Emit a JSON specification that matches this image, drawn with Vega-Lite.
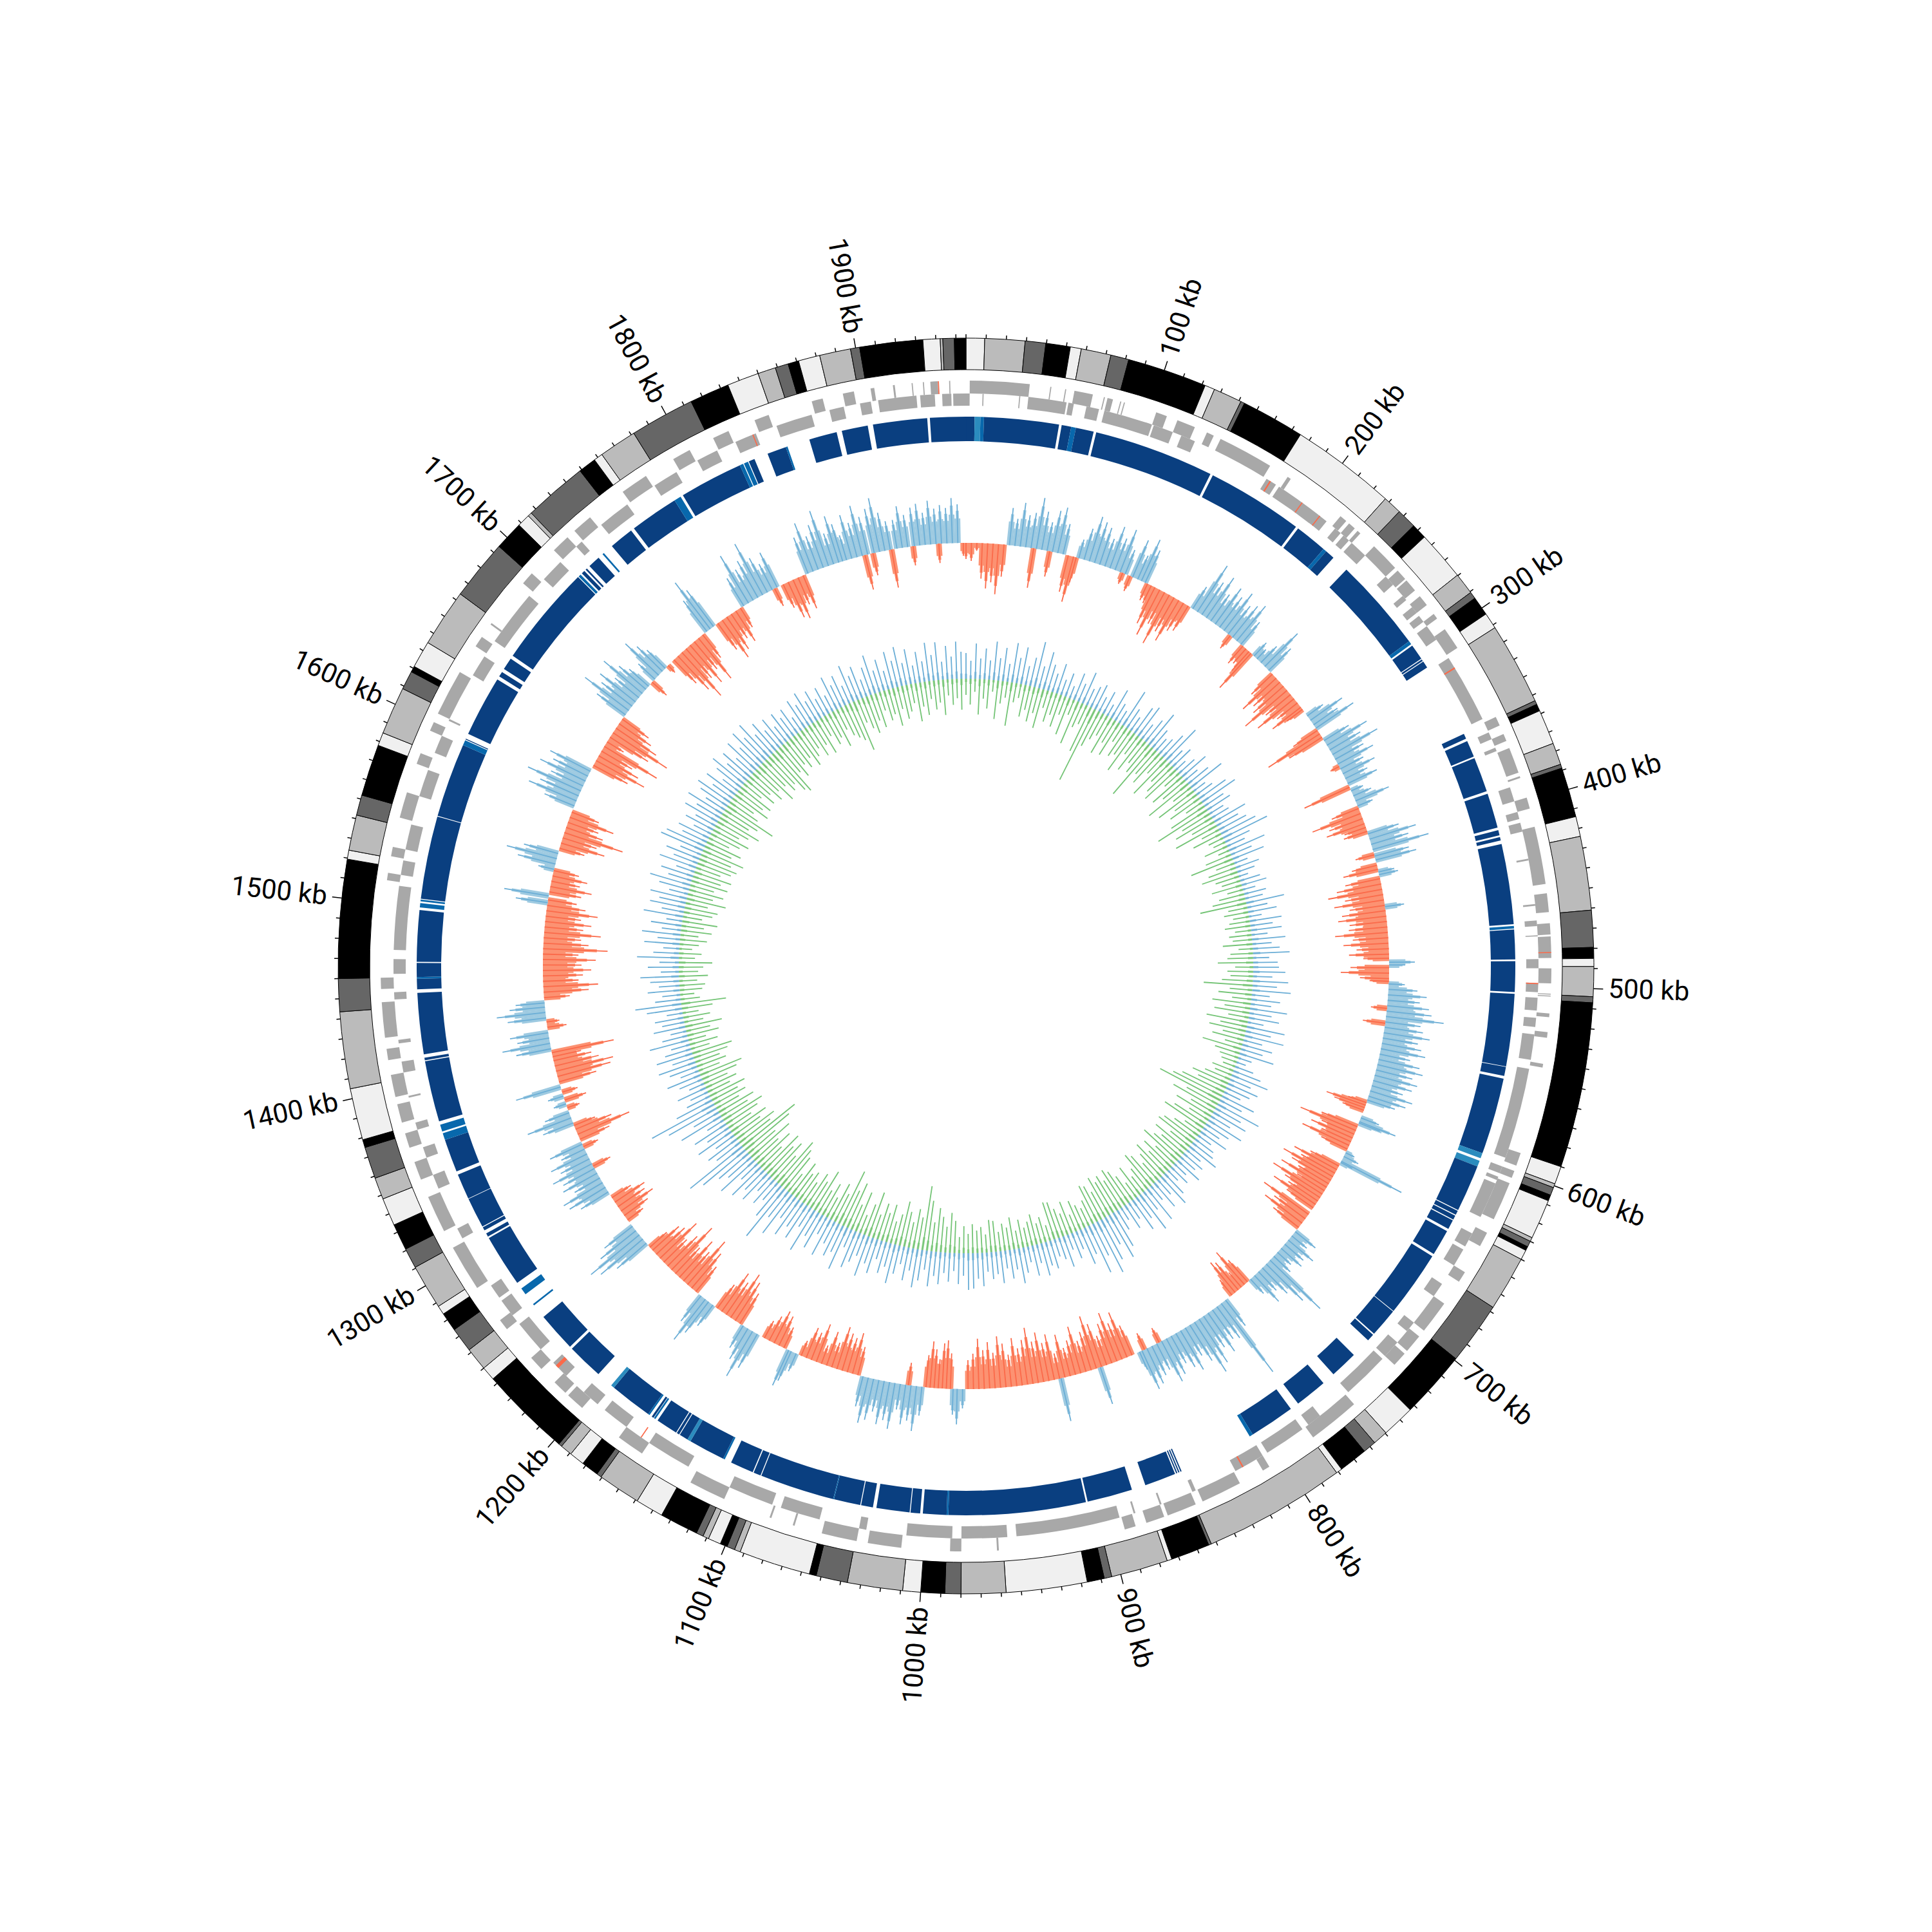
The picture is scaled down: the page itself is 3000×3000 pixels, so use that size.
{"$schema":"https://vega.github.io/schema/vega-lite/v6.json","width":3000,"height":3000,"padding":0,"autosize":{"type":"fit","contains":"padding"},"background":"white","config":{"view":{"stroke":null}},
"resolve":{"scale":{"radius":"independent","color":"independent","angle":"independent"}},
"datasets":{
"bands":[{"s":0,"e":9.3,"b":"l"},{"s":9.3,"e":29.4,"b":"g"},{"s":29.4,"e":39.7,"b":"d"},{"s":39.7,"e":52,"b":"k"},{"s":52,"e":57.5,"b":"l"},{"s":57.5,"e":72.5,"b":"g"},{"s":72.5,"e":81.6,"b":"d"},{"s":81.6,"e":121.6,"b":"k"},{"s":121.6,"e":126.6,"b":"l"},{"s":126.6,"e":141,"b":"g"},{"s":141,"e":143,"b":"d"},{"s":143,"e":174.8,"b":"k"},{"s":174.8,"e":227.6,"b":"l"},{"s":227.6,"e":237,"b":"g"},{"s":237,"e":247,"b":"d"},{"s":247,"e":254.7,"b":"k"},{"s":254.7,"e":279.7,"b":"l"},{"s":279.7,"e":290.5,"b":"g"},{"s":290.5,"e":294,"b":"d"},{"s":294,"e":303.6,"b":"k"},{"s":303.6,"e":311.7,"b":"l"},{"s":311.7,"e":353,"b":"g"},{"s":353,"e":355,"b":"d"},{"s":355,"e":358.5,"b":"k"},{"s":358.5,"e":376,"b":"l"},{"s":376,"e":387,"b":"g"},{"s":387,"e":389,"b":"d"},{"s":389,"e":414,"b":"k"},{"s":414,"e":424,"b":"l"},{"s":424,"e":461,"b":"g"},{"s":461,"e":479.5,"b":"d"},{"s":479.5,"e":485,"b":"k"},{"s":485,"e":489,"b":"l"},{"s":489,"e":504,"b":"g"},{"s":504,"e":507,"b":"d"},{"s":507,"e":590,"b":"k"},{"s":590,"e":599,"b":"l"},{"s":599,"e":601,"b":"g"},{"s":601,"e":605,"b":"d"},{"s":605,"e":608,"b":"k"},{"s":608,"e":628,"b":"l"},{"s":628,"e":630,"b":"g"},{"s":630,"e":633,"b":"d"},{"s":633,"e":635,"b":"k"},{"s":635,"e":640,"b":"l"},{"s":640,"e":667.6,"b":"g"},{"s":667.6,"e":699,"b":"d"},{"s":699,"e":733,"b":"k"},{"s":733,"e":749.6,"b":"l"},{"s":749.6,"e":757,"b":"g"},{"s":757,"e":763.6,"b":"d"},{"s":763.6,"e":778,"b":"k"},{"s":778,"e":781,"b":"l"},{"s":781,"e":852.6,"b":"g"},{"s":852.6,"e":854,"b":"d"},{"s":854,"e":873.6,"b":"k"},{"s":873.6,"e":876,"b":"l"},{"s":876,"e":904.6,"b":"g"},{"s":904.6,"e":908.4,"b":"d"},{"s":908.4,"e":917,"b":"k"},{"s":917,"e":957.6,"b":"l"},{"s":957.6,"e":980,"b":"g"},{"s":980,"e":988,"b":"d"},{"s":988,"e":1000,"b":"k"},{"s":1000,"e":1009,"b":"l"},{"s":1009,"e":1036.7,"b":"g"},{"s":1036.7,"e":1052.5,"b":"d"},{"s":1052.5,"e":1056,"b":"k"},{"s":1056,"e":1092,"b":"l"},{"s":1092,"e":1095,"b":"g"},{"s":1095,"e":1099,"b":"d"},{"s":1099,"e":1102.6,"b":"k"},{"s":1102.6,"e":1109,"b":"l"},{"s":1109,"e":1112,"b":"g"},{"s":1112,"e":1115.6,"b":"d"},{"s":1115.6,"e":1135,"b":"k"},{"s":1135,"e":1149,"b":"l"},{"s":1149,"e":1170.5,"b":"g"},{"s":1170.5,"e":1173,"b":"d"},{"s":1173,"e":1181.7,"b":"k"},{"s":1181.7,"e":1189.3,"b":"l"},{"s":1189.3,"e":1195.3,"b":"g"},{"s":1195.3,"e":1197,"b":"d"},{"s":1197,"e":1243,"b":"k"},{"s":1243,"e":1250,"b":"l"},{"s":1250,"e":1261.6,"b":"g"},{"s":1261.6,"e":1274,"b":"d"},{"s":1274,"e":1283.5,"b":"k"},{"s":1283.5,"e":1288,"b":"l"},{"s":1288,"e":1310.5,"b":"g"},{"s":1310.5,"e":1320.7,"b":"d"},{"s":1320.7,"e":1334,"b":"k"},{"s":1334,"e":1348,"b":"l"},{"s":1348,"e":1359,"b":"g"},{"s":1359,"e":1375,"b":"d"},{"s":1375,"e":1379,"b":"k"},{"s":1379,"e":1405,"b":"l"},{"s":1405,"e":1443.5,"b":"g"},{"s":1443.5,"e":1460,"b":"d"},{"s":1460,"e":1519.5,"b":"k"},{"s":1519.5,"e":1524,"b":"l"},{"s":1524,"e":1541.8,"b":"g"},{"s":1541.8,"e":1552,"b":"d"},{"s":1552,"e":1578,"b":"k"},{"s":1578,"e":1584.6,"b":"l"},{"s":1584.6,"e":1608.6,"b":"g"},{"s":1608.6,"e":1618,"b":"d"},{"s":1618,"e":1621,"b":"k"},{"s":1621,"e":1634.6,"b":"l"},{"s":1634.6,"e":1663.6,"b":"g"},{"s":1663.6,"e":1694,"b":"d"},{"s":1694,"e":1708.5,"b":"k"},{"s":1708.5,"e":1715,"b":"l"},{"s":1715,"e":1717,"b":"g"},{"s":1717,"e":1749,"b":"d"},{"s":1749,"e":1758,"b":"k"},{"s":1758,"e":1762.5,"b":"l"},{"s":1762.5,"e":1781.5,"b":"g"},{"s":1781.5,"e":1814,"b":"d"},{"s":1814,"e":1834,"b":"k"},{"s":1834,"e":1850,"b":"l"},{"s":1850,"e":1859,"b":"g"},{"s":1859,"e":1865.6,"b":"d"},{"s":1865.6,"e":1871,"b":"k"},{"s":1871,"e":1881.8,"b":"l"},{"s":1881.8,"e":1897.4,"b":"g"},{"s":1897.4,"e":1902,"b":"d"},{"s":1902,"e":1933.6,"b":"k"},{"s":1933.6,"e":1942.2,"b":"l"},{"s":1942.2,"e":1943.5,"b":"g"},{"s":1943.5,"e":1949.2,"b":"d"},{"s":1949.2,"e":1955,"b":"k"}],
"up":[{"s":2,"e":34},{"s":45,"e":45.6},{"s":53,"e":53.6},{"s":58,"e":68},{"s":74,"e":74.6},{"s":76,"e":79},{"s":83,"e":83.6},{"s":85,"e":85.6},{"s":103,"e":109},{"s":115,"e":125},{"s":132,"e":136},{"s":140,"e":170},{"s":181,"e":183},{"s":216,"e":220},{"s":222,"e":226},{"s":228,"e":230},{"s":240,"e":256},{"s":258,"e":264},{"s":265,"e":272},{"s":276,"e":282},{"s":288,"e":291},{"s":298,"e":310},{"s":352,"e":357},{"s":362,"e":366},{"s":370,"e":384},{"s":386,"e":387},{"s":398,"e":404},{"s":414,"e":445},{"s":450,"e":460},{"s":466,"e":472},{"s":473,"e":484.5},{"s":490,"e":498},{"s":503.5,"e":504},{"s":504.5,"e":505},{"s":514,"e":516},{"s":524,"e":527},{"s":541,"e":543},{"s":590,"e":597},{"s":600,"e":604},{"s":607,"e":628},{"s":636,"e":644},{"s":660,"e":666},{"s":680,"e":698},{"s":702,"e":712},{"s":714,"e":722},{"s":752,"e":780},{"s":808,"e":812},{"s":826,"e":848},{"s":852,"e":868},{"s":870,"e":880},{"s":886,"e":892},{"s":960,"e":961},{"s":980,"e":986},{"s":1012,"e":1030},{"s":1036,"e":1055},{"s":1070,"e":1071},{"s":1083,"e":1084},{"s":1110,"e":1130},{"s":1160,"e":1175},{"s":1200,"e":1210},{"s":1212,"e":1220},{"s":1230,"e":1238},{"s":1258,"e":1264},{"s":1285,"e":1310},{"s":1320,"e":1340},{"s":1350,"e":1360},{"s":1368,"e":1376},{"s":1382,"e":1392},{"s":1396,"e":1408},{"s":1416,"e":1422},{"s":1428,"e":1447},{"s":1454,"e":1460},{"s":1512,"e":1516},{"s":1525,"e":1530},{"s":1546,"e":1560},{"s":1576,"e":1582},{"s":1595,"e":1600},{"s":1605,"e":1630},{"s":1646,"e":1652},{"s":1660,"e":1661},{"s":1688,"e":1695},{"s":1712,"e":1722},{"s":1727,"e":1738},{"s":1760,"e":1775},{"s":1792,"e":1802},{"s":1816,"e":1825},{"s":1840,"e":1848},{"s":1872,"e":1878},{"s":1889,"e":1895},{"s":1904,"e":1906},{"s":1916,"e":1917},{"s":1926,"e":1926.6},{"s":1932,"e":1932.6},{"s":1936,"e":1940},{"s":1946,"e":1946.6}],
"down":[{"s":1907,"e":1928},{"s":1930,"e":1938},{"s":1942,"e":1947},{"s":1948,"e":1955},{"s":0,"e":2},{"s":9,"e":9.6},{"s":29,"e":29.6},{"s":34,"e":55},{"s":56,"e":59},{"s":66,"e":73},{"s":76,"e":103},{"s":104,"e":115},{"s":120,"e":128},{"s":172,"e":178},{"s":180,"e":212},{"s":218,"e":222},{"s":224,"e":228},{"s":230,"e":240},{"s":256,"e":262},{"s":270,"e":273},{"s":278,"e":282},{"s":284,"e":288},{"s":291,"e":300},{"s":312,"e":350},{"s":358,"e":362},{"s":367,"e":369},{"s":390,"e":398},{"s":404,"e":408},{"s":410,"e":415},{"s":430,"e":431},{"s":455,"e":456},{"s":464,"e":467},{"s":472,"e":472.6},{"s":485,"e":490},{"s":498,"e":503},{"s":506,"e":513},{"s":517,"e":522},{"s":526,"e":540},{"s":545,"e":595},{"s":600,"e":604},{"s":606,"e":608},{"s":610,"e":630},{"s":640,"e":648},{"s":650,"e":660},{"s":672,"e":680},{"s":698,"e":704},{"s":712,"e":722},{"s":724,"e":750},{"s":770,"e":778},{"s":782,"e":805},{"s":808,"e":825},{"s":849,"e":851},{"s":869,"e":870},{"s":884,"e":885},{"s":893,"e":950},{"s":955,"e":980},{"s":985,"e":1010},{"s":1032,"e":1036},{"s":1058,"e":1080},{"s":1085,"e":1110},{"s":1135,"e":1160},{"s":1175,"e":1190},{"s":1195,"e":1205},{"s":1218,"e":1228},{"s":1238,"e":1256},{"s":1262,"e":1272},{"s":1274,"e":1282},{"s":1312,"e":1318},{"s":1342,"e":1350},{"s":1360,"e":1366},{"s":1376,"e":1380},{"s":1394,"e":1395},{"s":1408,"e":1414},{"s":1424,"e":1426},{"s":1448,"e":1452},{"s":1462,"e":1470},{"s":1475,"e":1510},{"s":1516,"e":1524},{"s":1530,"e":1544},{"s":1560,"e":1575},{"s":1585,"e":1595},{"s":1604,"e":1605},{"s":1632,"e":1644},{"s":1654,"e":1685},{"s":1697,"e":1710},{"s":1722,"e":1726},{"s":1740,"e":1758},{"s":1776,"e":1790},{"s":1803,"e":1815},{"s":1826,"e":1838},{"s":1850,"e":1870},{"s":1880,"e":1888},{"s":1897,"e":1903}],
"redUp":[{"s":1940,"e":1940.6},{"s":481.3,"e":481.8}],
"redDown":[{"s":174,"e":174.8},{"s":195,"e":195.6},{"s":207,"e":207.6},{"s":318,"e":318.8},{"s":498,"e":498.6},{"s":820,"e":820.8},{"s":1165,"e":1165.6},{"s":1224,"e":1226},{"s":1836,"e":1836.6}],
"ring":[{"s":0,"e":4.9,"c":"a"},{"s":4.9,"e":8.2,"c":"c"},{"s":8.2,"e":10.2,"c":"b"},{"s":10.2,"e":53,"c":"a"},{"s":54.5,"e":60,"c":"a"},{"s":60,"e":62.7,"c":"b"},{"s":62.7,"e":73,"c":"a"},{"s":74.5,"e":143.5,"c":"a"},{"s":145,"e":200.5,"c":"a"},{"s":202,"e":220.5,"c":"a"},{"s":220.5,"e":222.5,"c":"b"},{"s":222.5,"e":228,"c":"a"},{"s":238,"e":292,"c":"a"},{"s":292,"e":294,"c":"b"},{"s":295,"e":304,"c":"a"},{"s":304.5,"e":305.5,"c":"a"},{"s":306,"e":310,"c":"a"},{"s":353,"e":356,"c":"a"},{"s":357.5,"e":367,"c":"a"},{"s":368,"e":388,"c":"a"},{"s":389.5,"e":409.5,"c":"a"},{"s":411,"e":414,"c":"a"},{"s":415,"e":417,"c":"a"},{"s":419,"e":465,"c":"a"},{"s":466,"e":467.5,"c":"b"},{"s":468,"e":485,"c":"a"},{"s":486,"e":503.5,"c":"a"},{"s":504.5,"e":546,"c":"a"},{"s":546.3,"e":551.5,"c":"a"},{"s":553,"e":597,"c":"a"},{"s":597,"e":600,"c":"c"},{"s":601.5,"e":605,"c":"c"},{"s":605,"e":632,"c":"a"},{"s":632.5,"e":635,"c":"a"},{"s":635.6,"e":638,"c":"a"},{"s":638.6,"e":644,"c":"a"},{"s":645.5,"e":660.5,"c":"a"},{"s":662,"e":700,"c":"a"},{"s":700.4,"e":717,"c":"a"},{"s":717.8,"e":722,"c":"a"},{"s":733.6,"e":749.5,"c":"a"},{"s":757,"e":775.5,"c":"a"},{"s":780.6,"e":806.6,"c":"a"},{"s":806.6,"e":808.6,"c":"b"},{"s":852,"e":852.7,"c":"a"},{"s":853.3,"e":854,"c":"a"},{"s":854.6,"e":855.3,"c":"a"},{"s":856,"e":874,"c":"a"},{"s":882,"e":908,"c":"a"},{"s":909,"e":987.5,"c":"a"},{"s":987.5,"e":988.5,"c":"b"},{"s":988.5,"e":1002,"c":"a"},{"s":1003.5,"e":1009,"c":"a"},{"s":1009.5,"e":1028.5,"c":"a"},{"s":1030.5,"e":1037.3,"c":"a"},{"s":1037.8,"e":1053,"c":"a"},{"s":1053,"e":1053.5,"c":"b"},{"s":1053.5,"e":1096.3,"c":"a"},{"s":1096.8,"e":1101,"c":"a"},{"s":1101.6,"e":1115,"c":"a"},{"s":1119,"e":1120,"c":"b"},{"s":1120,"e":1141,"c":"a"},{"s":1141,"e":1143,"c":"c"},{"s":1143,"e":1148,"c":"a"},{"s":1148.5,"e":1150,"c":"a"},{"s":1150.5,"e":1163,"c":"a"},{"s":1164.5,"e":1165.5,"c":"b"},{"s":1165.8,"e":1167,"c":"a"},{"s":1168.5,"e":1169.5,"c":"b"},{"s":1169.5,"e":1194,"c":"a"},{"s":1194,"e":1196,"c":"c"},{"s":1205.6,"e":1226.5,"c":"a"},{"s":1228,"e":1250.6,"c":"a"},{"s":1259,"e":1260,"c":"b"},{"s":1267,"e":1271,"c":"b"},{"s":1275,"e":1305,"c":"a"},{"s":1306,"e":1308,"c":"a"},{"s":1310,"e":1312,"c":"a"},{"s":1312.5,"e":1330,"c":"a"},{"s":1330.3,"e":1345,"c":"a"},{"s":1347,"e":1366,"c":"a"},{"s":1366,"e":1370,"c":"b"},{"s":1371,"e":1375,"c":"b"},{"s":1377,"e":1412,"c":"a"},{"s":1412.5,"e":1414,"c":"a"},{"s":1416,"e":1451,"c":"a"},{"s":1453,"e":1459,"c":"a"},{"s":1459,"e":1460,"c":"b"},{"s":1460,"e":1468,"c":"a"},{"s":1468.6,"e":1498,"c":"a"},{"s":1499.5,"e":1502,"c":"b"},{"s":1503,"e":1504,"c":"b"},{"s":1504.5,"e":1552,"c":"a"},{"s":1552.4,"e":1595,"c":"a"},{"s":1595,"e":1598,"c":"b"},{"s":1598.5,"e":1599,"c":"a"},{"s":1602,"e":1637,"c":"a"},{"s":1639,"e":1642,"c":"a"},{"s":1644,"e":1651,"c":"a"},{"s":1653,"e":1711,"c":"a"},{"s":1711.5,"e":1713,"c":"b"},{"s":1714,"e":1716,"c":"a"},{"s":1717,"e":1718,"c":"a"},{"s":1720,"e":1727,"c":"a"},{"s":1730,"e":1731,"c":"b"},{"s":1737,"e":1751,"c":"a"},{"s":1753,"e":1781,"c":"a"},{"s":1781,"e":1785,"c":"b"},{"s":1786.5,"e":1823,"c":"a"},{"s":1823,"e":1825,"c":"b"},{"s":1825.5,"e":1828,"c":"b"},{"s":1828.5,"e":1832,"c":"a"},{"s":1840,"e":1851,"c":"a"},{"s":1851,"e":1852,"c":"b"},{"s":1865,"e":1881,"c":"a"},{"s":1884,"e":1899,"c":"a"},{"s":1902,"e":1933,"c":"a"},{"s":1934.5,"e":1955,"c":"a"}],
"ticks":[{"p":0},{"p":10},{"p":20},{"p":30},{"p":40},{"p":50},{"p":60},{"p":70},{"p":80},{"p":90},{"p":110},{"p":120},{"p":130},{"p":140},{"p":150},{"p":160},{"p":170},{"p":180},{"p":190},{"p":210},{"p":220},{"p":230},{"p":240},{"p":250},{"p":260},{"p":270},{"p":280},{"p":290},{"p":310},{"p":320},{"p":330},{"p":340},{"p":350},{"p":360},{"p":370},{"p":380},{"p":390},{"p":410},{"p":420},{"p":430},{"p":440},{"p":450},{"p":460},{"p":470},{"p":480},{"p":490},{"p":510},{"p":520},{"p":530},{"p":540},{"p":550},{"p":560},{"p":570},{"p":580},{"p":590},{"p":610},{"p":620},{"p":630},{"p":640},{"p":650},{"p":660},{"p":670},{"p":680},{"p":690},{"p":710},{"p":720},{"p":730},{"p":740},{"p":750},{"p":760},{"p":770},{"p":780},{"p":790},{"p":810},{"p":820},{"p":830},{"p":840},{"p":850},{"p":860},{"p":870},{"p":880},{"p":890},{"p":910},{"p":920},{"p":930},{"p":940},{"p":950},{"p":960},{"p":970},{"p":980},{"p":990},{"p":1010},{"p":1020},{"p":1030},{"p":1040},{"p":1050},{"p":1060},{"p":1070},{"p":1080},{"p":1090},{"p":1110},{"p":1120},{"p":1130},{"p":1140},{"p":1150},{"p":1160},{"p":1170},{"p":1180},{"p":1190},{"p":1210},{"p":1220},{"p":1230},{"p":1240},{"p":1250},{"p":1260},{"p":1270},{"p":1280},{"p":1290},{"p":1310},{"p":1320},{"p":1330},{"p":1340},{"p":1350},{"p":1360},{"p":1370},{"p":1380},{"p":1390},{"p":1410},{"p":1420},{"p":1430},{"p":1440},{"p":1450},{"p":1460},{"p":1470},{"p":1480},{"p":1490},{"p":1510},{"p":1520},{"p":1530},{"p":1540},{"p":1550},{"p":1560},{"p":1570},{"p":1580},{"p":1590},{"p":1610},{"p":1620},{"p":1630},{"p":1640},{"p":1650},{"p":1660},{"p":1670},{"p":1680},{"p":1690},{"p":1710},{"p":1720},{"p":1730},{"p":1740},{"p":1750},{"p":1760},{"p":1770},{"p":1780},{"p":1790},{"p":1810},{"p":1820},{"p":1830},{"p":1840},{"p":1850},{"p":1860},{"p":1870},{"p":1880},{"p":1890},{"p":1910},{"p":1920},{"p":1930},{"p":1940},{"p":1950}],
"major":[{"p":100,"t":"100 kb"},{"p":200,"t":"200 kb"},{"p":300,"t":"300 kb"},{"p":400,"t":"400 kb"},{"p":500,"t":"500 kb"},{"p":600,"t":"600 kb"},{"p":700,"t":"700 kb"},{"p":800,"t":"800 kb"},{"p":900,"t":"900 kb"},{"p":1000,"t":"1000 kb"},{"p":1100,"t":"1100 kb"},{"p":1200,"t":"1200 kb"},{"p":1300,"t":"1300 kb"},{"p":1400,"t":"1400 kb"},{"p":1500,"t":"1500 kb"},{"p":1600,"t":"1600 kb"},{"p":1700,"t":"1700 kb"},{"p":1800,"t":"1800 kb"},{"p":1900,"t":"1900 kb"}],
"skew":[{"p":0,"v":-25},{"p":4,"v":-28},{"p":8,"v":-12},{"p":12,"v":-55},{"p":16,"v":-70},{"p":20,"v":-60},{"p":24,"v":-78},{"p":28,"v":-50},{"p":32,"v":58},{"p":36,"v":42},{"p":40,"v":68},{"p":44,"v":50},{"p":48,"v":55},{"p":50,"v":-62},{"p":52,"v":80},{"p":56,"v":60},{"p":60,"v":45},{"p":62,"v":-40},{"p":64,"v":65},{"p":68,"v":72},{"p":72,"v":48},{"p":76,"v":-58},{"p":80,"v":-72},{"p":82,"v":-40},{"p":84,"v":30},{"p":88,"v":50},{"p":92,"v":72},{"p":96,"v":66},{"p":100,"v":60},{"p":104,"v":45},{"p":108,"v":68},{"p":112,"v":52},{"p":116,"v":70},{"p":118,"v":-18},{"p":120,"v":40},{"p":124,"v":-25},{"p":126,"v":62},{"p":130,"v":40},{"p":133,"v":70},{"p":136,"v":55},{"p":138,"v":-28},{"p":141,"v":-30},{"p":144,"v":-62},{"p":148,"v":-78},{"p":152,"v":-55},{"p":156,"v":-85},{"p":160,"v":-60},{"p":164,"v":-72},{"p":168,"v":-50},{"p":172,"v":-45},{"p":176,"v":40},{"p":180,"v":85},{"p":184,"v":60},{"p":188,"v":75},{"p":192,"v":50},{"p":196,"v":68},{"p":200,"v":58},{"p":204,"v":72},{"p":208,"v":55},{"p":210,"v":-25},{"p":212,"v":62},{"p":216,"v":70},{"p":220,"v":45},{"p":222,"v":-35},{"p":225,"v":-30},{"p":228,"v":-40},{"p":230,"v":-72},{"p":233,"v":28},{"p":236,"v":20},{"p":240,"v":35},{"p":244,"v":72},{"p":248,"v":48},{"p":252,"v":-45},{"p":256,"v":-70},{"p":260,"v":-55},{"p":264,"v":-62},{"p":268,"v":-85},{"p":272,"v":-50},{"p":276,"v":-72},{"p":280,"v":-40},{"p":284,"v":-55},{"p":286,"v":-30},{"p":292,"v":30},{"p":296,"v":60},{"p":300,"v":45},{"p":303,"v":70},{"p":305,"v":-45},{"p":308,"v":-95},{"p":311,"v":-60},{"p":314,"v":45},{"p":318,"v":72},{"p":322,"v":55},{"p":326,"v":80},{"p":330,"v":50},{"p":334,"v":62},{"p":336,"v":-15},{"p":338,"v":40},{"p":342,"v":55},{"p":346,"v":38},{"p":350,"v":50},{"p":353,"v":-77},{"p":356,"v":20},{"p":360,"v":30},{"p":364,"v":56},{"p":368,"v":25},{"p":370,"v":-45},{"p":374,"v":-80},{"p":378,"v":-55},{"p":382,"v":-62},{"p":385,"v":-35},{"p":388,"v":-38},{"p":390,"v":50},{"p":394,"v":75},{"p":398,"v":60},{"p":402,"v":90},{"p":406,"v":-30},{"p":407,"v":55},{"p":410,"v":65},{"p":414,"v":-40},{"p":417,"v":-55},{"p":419,"v":25},{"p":421,"v":30},{"p":424,"v":-55},{"p":428,"v":-70},{"p":432,"v":-85},{"p":436,"v":-60},{"p":440,"v":-78},{"p":444,"v":-55},{"p":445,"v":30},{"p":448,"v":-68},{"p":452,"v":-75},{"p":456,"v":-58},{"p":460,"v":-60},{"p":464,"v":-82},{"p":468,"v":-55},{"p":472,"v":-70},{"p":476,"v":-50},{"p":480,"v":-62},{"p":483,"v":-40},{"p":486,"v":40},{"p":488,"v":25},{"p":490,"v":-60},{"p":494,"v":-75},{"p":498,"v":-45},{"p":500,"v":-30},{"p":502,"v":25},{"p":506,"v":45},{"p":510,"v":60},{"p":514,"v":50},{"p":518,"v":65},{"p":520,"v":-25},{"p":522,"v":70},{"p":526,"v":90},{"p":530,"v":55},{"p":531,"v":-35},{"p":534,"v":60},{"p":538,"v":72},{"p":542,"v":55},{"p":546,"v":62},{"p":550,"v":70},{"p":554,"v":48},{"p":558,"v":65},{"p":562,"v":72},{"p":566,"v":58},{"p":570,"v":68},{"p":574,"v":62},{"p":578,"v":50},{"p":582,"v":68},{"p":586,"v":60},{"p":589,"v":45},{"p":591,"v":-30},{"p":593,"v":-64},{"p":595,"v":-50},{"p":597,"v":-35},{"p":603,"v":30},{"p":606,"v":60},{"p":607,"v":35},{"p":610,"v":-60},{"p":613,"v":-93},{"p":616,"v":-55},{"p":619,"v":-70},{"p":622,"v":-50},{"p":625,"v":-80},{"p":628,"v":-45},{"p":631,"v":15},{"p":634,"v":25},{"p":638,"v":105},{"p":639,"v":20},{"p":642,"v":-50},{"p":645,"v":-75},{"p":648,"v":-60},{"p":651,"v":-88},{"p":654,"v":-70},{"p":657,"v":-55},{"p":660,"v":-82},{"p":663,"v":-50},{"p":666,"v":-90},{"p":669,"v":-65},{"p":672,"v":-55},{"p":675,"v":-78},{"p":678,"v":-50},{"p":684,"v":-85},{"p":688,"v":-60},{"p":692,"v":-72},{"p":696,"v":-50},{"p":700,"v":40},{"p":704,"v":30},{"p":708,"v":50},{"p":712,"v":38},{"p":716,"v":42},{"p":720,"v":28},{"p":724,"v":35},{"p":728,"v":108},{"p":732,"v":80},{"p":736,"v":55},{"p":740,"v":40},{"p":744,"v":55},{"p":748,"v":30},{"p":751,"v":-45},{"p":754,"v":-66},{"p":757,"v":-30},{"p":760,"v":-55},{"p":763,"v":-60},{"p":766,"v":-30},{"p":772,"v":50},{"p":776,"v":133},{"p":780,"v":60},{"p":784,"v":55},{"p":788,"v":72},{"p":792,"v":58},{"p":796,"v":80},{"p":800,"v":91},{"p":804,"v":65},{"p":808,"v":50},{"p":812,"v":70},{"p":816,"v":60},{"p":820,"v":48},{"p":824,"v":62},{"p":828,"v":70},{"p":830,"v":-25},{"p":832,"v":45},{"p":836,"v":50},{"p":840,"v":60},{"p":842,"v":-28},{"p":844,"v":65},{"p":846,"v":30},{"p":852,"v":-50},{"p":856,"v":-75},{"p":860,"v":-60},{"p":864,"v":-80},{"p":868,"v":-65},{"p":872,"v":-48},{"p":876,"v":-70},{"p":877,"v":60},{"p":880,"v":-85},{"p":884,"v":-62},{"p":888,"v":-50},{"p":892,"v":-75},{"p":896,"v":-55},{"p":900,"v":-45},{"p":904,"v":-68},{"p":907,"v":68},{"p":908,"v":-40},{"p":912,"v":-72},{"p":916,"v":-60},{"p":920,"v":-78},{"p":924,"v":-65},{"p":928,"v":-88},{"p":932,"v":-70},{"p":936,"v":-58},{"p":940,"v":-75},{"p":944,"v":-50},{"p":948,"v":-68},{"p":952,"v":-80},{"p":956,"v":-55},{"p":960,"v":-72},{"p":964,"v":-60},{"p":968,"v":-78},{"p":972,"v":-55},{"p":976,"v":-45},{"p":980,"v":30},{"p":984,"v":55},{"p":987,"v":40},{"p":989,"v":-55},{"p":992,"v":-75},{"p":995,"v":-70},{"p":998,"v":-45},{"p":1001,"v":-60},{"p":1004,"v":-72},{"p":1007,"v":-50},{"p":1010,"v":45},{"p":1014,"v":70},{"p":1018,"v":55},{"p":1020,"v":-35},{"p":1022,"v":62},{"p":1026,"v":40},{"p":1030,"v":72},{"p":1034,"v":60},{"p":1038,"v":68},{"p":1042,"v":50},{"p":1046,"v":65},{"p":1050,"v":72},{"p":1054,"v":48},{"p":1058,"v":-45},{"p":1062,"v":-65},{"p":1066,"v":-55},{"p":1070,"v":-60},{"p":1074,"v":-68},{"p":1078,"v":-40},{"p":1082,"v":-55},{"p":1086,"v":-30},{"p":1090,"v":-62},{"p":1094,"v":-45},{"p":1098,"v":-50},{"p":1102,"v":-25},{"p":1106,"v":30},{"p":1110,"v":50},{"p":1112,"v":60},{"p":1116,"v":-35},{"p":1120,"v":-50},{"p":1124,"v":-55},{"p":1128,"v":-42},{"p":1132,"v":-30},{"p":1138,"v":60},{"p":1142,"v":80},{"p":1146,"v":55},{"p":1150,"v":40},{"p":1153,"v":-55},{"p":1157,"v":-70},{"p":1161,"v":-80},{"p":1165,"v":-60},{"p":1169,"v":-72},{"p":1173,"v":-45},{"p":1177,"v":40},{"p":1181,"v":60},{"p":1184,"v":79},{"p":1188,"v":50},{"p":1193,"v":-50},{"p":1197,"v":-70},{"p":1201,"v":-88},{"p":1205,"v":-60},{"p":1209,"v":-75},{"p":1213,"v":-55},{"p":1217,"v":-90},{"p":1221,"v":-65},{"p":1225,"v":-50},{"p":1229,"v":-78},{"p":1233,"v":-60},{"p":1237,"v":-55},{"p":1240,"v":-35},{"p":1244,"v":60},{"p":1248,"v":85},{"p":1252,"v":97},{"p":1256,"v":70},{"p":1260,"v":55},{"p":1266,"v":-30},{"p":1270,"v":-45},{"p":1274,"v":-60},{"p":1278,"v":-50},{"p":1282,"v":-55},{"p":1286,"v":-35},{"p":1291,"v":50},{"p":1295,"v":65},{"p":1299,"v":70},{"p":1303,"v":45},{"p":1307,"v":60},{"p":1311,"v":55},{"p":1313,"v":-30},{"p":1315,"v":68},{"p":1319,"v":50},{"p":1323,"v":62},{"p":1327,"v":40},{"p":1329,"v":-25},{"p":1331,"v":55},{"p":1335,"v":-50},{"p":1339,"v":-87},{"p":1343,"v":-60},{"p":1346,"v":-35},{"p":1348,"v":50},{"p":1352,"v":72},{"p":1356,"v":40},{"p":1360,"v":-20},{"p":1363,"v":20},{"p":1366,"v":-35},{"p":1369,"v":25},{"p":1372,"v":-25},{"p":1376,"v":72},{"p":1380,"v":-60},{"p":1384,"v":-85},{"p":1388,"v":-91},{"p":1392,"v":-70},{"p":1396,"v":-60},{"p":1399,"v":-45},{"p":1402,"v":-98},{"p":1405,"v":55},{"p":1409,"v":75},{"p":1413,"v":50},{"p":1417,"v":60},{"p":1421,"v":-30},{"p":1425,"v":-20},{"p":1428,"v":60},{"p":1432,"v":76},{"p":1436,"v":55},{"p":1439,"v":45},{"p":1443,"v":-40},{"p":1447,"v":-70},{"p":1451,"v":-85},{"p":1455,"v":-55},{"p":1459,"v":-62},{"p":1463,"v":-75},{"p":1467,"v":-60},{"p":1471,"v":-82},{"p":1475,"v":-55},{"p":1479,"v":-100},{"p":1483,"v":-70},{"p":1487,"v":-58},{"p":1491,"v":-88},{"p":1495,"v":-60},{"p":1499,"v":-72},{"p":1503,"v":-55},{"p":1507,"v":-80},{"p":1511,"v":-60},{"p":1513,"v":50},{"p":1515,"v":-45},{"p":1518,"v":70},{"p":1521,"v":-50},{"p":1525,"v":-65},{"p":1529,"v":-45},{"p":1533,"v":-55},{"p":1537,"v":-40},{"p":1538,"v":25},{"p":1542,"v":60},{"p":1546,"v":80},{"p":1550,"v":55},{"p":1554,"v":-40},{"p":1558,"v":-70},{"p":1562,"v":-55},{"p":1566,"v":-95},{"p":1570,"v":-60},{"p":1574,"v":-50},{"p":1578,"v":-72},{"p":1582,"v":-45},{"p":1587,"v":50},{"p":1591,"v":80},{"p":1595,"v":65},{"p":1599,"v":90},{"p":1603,"v":55},{"p":1607,"v":78},{"p":1611,"v":60},{"p":1615,"v":70},{"p":1620,"v":-60},{"p":1624,"v":-85},{"p":1628,"v":-70},{"p":1632,"v":-55},{"p":1636,"v":-95},{"p":1640,"v":-30},{"p":1644,"v":-70},{"p":1648,"v":-100},{"p":1652,"v":-75},{"p":1656,"v":-60},{"p":1660,"v":-50},{"p":1664,"v":55},{"p":1668,"v":85},{"p":1672,"v":60},{"p":1676,"v":70},{"p":1680,"v":48},{"p":1684,"v":78},{"p":1688,"v":55},{"p":1691,"v":40},{"p":1695,"v":-30},{"p":1698,"v":35},{"p":1702,"v":71},{"p":1706,"v":55},{"p":1709,"v":40},{"p":1712,"v":-15},{"p":1718,"v":-50},{"p":1722,"v":-70},{"p":1726,"v":-90},{"p":1730,"v":-60},{"p":1734,"v":-75},{"p":1738,"v":-55},{"p":1742,"v":-80},{"p":1746,"v":-45},{"p":1750,"v":60},{"p":1753,"v":90},{"p":1756,"v":70},{"p":1760,"v":-50},{"p":1764,"v":-70},{"p":1768,"v":-60},{"p":1772,"v":-45},{"p":1776,"v":-55},{"p":1780,"v":-35},{"p":1783,"v":50},{"p":1787,"v":85},{"p":1791,"v":55},{"p":1795,"v":65},{"p":1799,"v":90},{"p":1803,"v":60},{"p":1807,"v":45},{"p":1809,"v":-30},{"p":1811,"v":60},{"p":1816,"v":-40},{"p":1820,"v":-60},{"p":1824,"v":-65},{"p":1828,"v":-45},{"p":1832,"v":-55},{"p":1836,"v":60},{"p":1840,"v":80},{"p":1844,"v":55},{"p":1848,"v":70},{"p":1852,"v":90},{"p":1856,"v":50},{"p":1860,"v":75},{"p":1863,"v":60},{"p":1866,"v":40},{"p":1870,"v":70},{"p":1874,"v":55},{"p":1878,"v":80},{"p":1880,"v":-55},{"p":1882,"v":60},{"p":1886,"v":-35},{"p":1887,"v":70},{"p":1891,"v":85},{"p":1895,"v":60},{"p":1899,"v":45},{"p":1900,"v":-60},{"p":1904,"v":45},{"p":1908,"v":65},{"p":1912,"v":50},{"p":1916,"v":-30},{"p":1917,"v":60},{"p":1921,"v":65},{"p":1925,"v":50},{"p":1929,"v":68},{"p":1933,"v":55},{"p":1935,"v":-30},{"p":1937,"v":60},{"p":1941,"v":55},{"p":1945,"v":70},{"p":1949,"v":60},{"p":1953,"v":-20}],
"gc":[{"p":0,"u":40,"d":-25},{"p":5,"u":28,"d":-40},{"p":10,"u":55,"d":-20},{"p":15,"u":32,"d":-55},{"p":20,"u":48,"d":-30},{"p":25,"u":30,"d":-45},{"p":30,"u":60,"d":-18},{"p":35,"u":35,"d":-60},{"p":40,"u":52,"d":-35},{"p":45,"u":28,"d":-25},{"p":50,"u":62,"d":-68},{"p":55,"u":40,"d":-30},{"p":60,"u":58,"d":-22},{"p":65,"u":30,"d":-50},{"p":70,"u":45,"d":-38},{"p":75,"u":72,"d":-55},{"p":80,"u":35,"d":-40},{"p":85,"u":60,"d":-62},{"p":90,"u":42,"d":-28},{"p":95,"u":30,"d":-48},{"p":100,"u":48,"d":-35},{"p":105,"u":25,"d":-52},{"p":110,"u":38,"d":-30},{"p":115,"u":20,"d":-60},{"p":120,"u":44,"d":-25},{"p":125,"u":30,"d":-70},{"p":130,"u":52,"d":-40},{"p":135,"u":28,"d":-32},{"p":140,"u":35,"d":-75},{"p":145,"u":42,"d":-122},{"p":150,"u":25,"d":-60},{"p":155,"u":38,"d":-45},{"p":160,"u":20,"d":-35},{"p":165,"u":50,"d":-62},{"p":170,"u":30,"d":-40},{"p":175,"u":22,"d":-58},{"p":180,"u":62,"d":-30},{"p":185,"u":35,"d":-52},{"p":190,"u":25,"d":-45},{"p":195,"u":48,"d":-70},{"p":200,"u":55,"d":-35},{"p":205,"u":28,"d":-60},{"p":210,"u":42,"d":-42},{"p":215,"u":60,"d":-55},{"p":220,"u":35,"d":-94},{"p":225,"u":24,"d":-48},{"p":230,"u":30,"d":-60},{"p":235,"u":45,"d":-35},{"p":240,"u":65,"d":-72},{"p":245,"u":28,"d":-40},{"p":250,"u":38,"d":-55},{"p":255,"u":20,"d":-65},{"p":260,"u":32,"d":-30},{"p":265,"u":48,"d":-60},{"p":270,"u":25,"d":-45},{"p":275,"u":40,"d":-78},{"p":280,"u":60,"d":-35},{"p":285,"u":22,"d":-68},{"p":290,"u":30,"d":-42},{"p":295,"u":50,"d":-55},{"p":300,"u":62,"d":-30},{"p":305,"u":35,"d":-62},{"p":310,"u":42,"d":-90},{"p":315,"u":25,"d":-50},{"p":320,"u":30,"d":-65},{"p":325,"u":55,"d":-40},{"p":330,"u":38,"d":-72},{"p":335,"u":48,"d":-30},{"p":340,"u":60,"d":-48},{"p":345,"u":76,"d":-25},{"p":350,"u":42,"d":-20},{"p":355,"u":30,"d":-38},{"p":360,"u":60,"d":-18},{"p":365,"u":35,"d":-42},{"p":370,"u":52,"d":-69},{"p":375,"u":22,"d":-30},{"p":380,"u":38,"d":-45},{"p":385,"u":28,"d":-58},{"p":390,"u":15,"d":-38},{"p":395,"u":32,"d":-30},{"p":400,"u":40,"d":-48},{"p":405,"u":20,"d":-25},{"p":410,"u":35,"d":-40},{"p":415,"u":28,"d":-52},{"p":420,"u":60,"d":-73},{"p":425,"u":32,"d":-30},{"p":430,"u":45,"d":-38},{"p":435,"u":20,"d":-25},{"p":440,"u":50,"d":-32},{"p":445,"u":35,"d":-40},{"p":450,"u":48,"d":-25},{"p":455,"u":25,"d":-35},{"p":460,"u":52,"d":-30},{"p":465,"u":30,"d":-46},{"p":470,"u":42,"d":-22},{"p":475,"u":57,"d":-35},{"p":480,"u":25,"d":-40},{"p":485,"u":38,"d":-55},{"p":490,"u":40,"d":-28},{"p":495,"u":50,"d":-40},{"p":500,"u":30,"d":-35},{"p":505,"u":55,"d":-48},{"p":510,"u":38,"d":-76},{"p":515,"u":60,"d":-35},{"p":520,"u":28,"d":-52},{"p":525,"u":45,"d":-30},{"p":530,"u":32,"d":-60},{"p":535,"u":58,"d":-40},{"p":540,"u":35,"d":-55},{"p":545,"u":48,"d":-32},{"p":550,"u":25,"d":-65},{"p":555,"u":60,"d":-42},{"p":560,"u":40,"d":-58},{"p":565,"u":62,"d":-35},{"p":570,"u":30,"d":-50},{"p":575,"u":48,"d":-28},{"p":580,"u":35,"d":-62},{"p":585,"u":55,"d":-40},{"p":590,"u":22,"d":-30},{"p":595,"u":15,"d":-25},{"p":600,"u":30,"d":-20},{"p":605,"u":45,"d":-35},{"p":610,"u":60,"d":-28},{"p":615,"u":35,"d":-42},{"p":620,"u":50,"d":-60},{"p":625,"u":40,"d":-48},{"p":630,"u":28,"d":-72},{"p":635,"u":55,"d":-85},{"p":640,"u":38,"d":-105},{"p":645,"u":72,"d":-55},{"p":650,"u":45,"d":-75},{"p":655,"u":58,"d":-40},{"p":660,"u":35,"d":-62},{"p":665,"u":60,"d":-35},{"p":670,"u":42,"d":-58},{"p":675,"u":30,"d":-72},{"p":680,"u":48,"d":-30},{"p":685,"u":25,"d":-45},{"p":690,"u":35,"d":-60},{"p":695,"u":40,"d":-66},{"p":700,"u":52,"d":-38},{"p":705,"u":28,"d":-62},{"p":710,"u":38,"d":-45},{"p":715,"u":30,"d":-55},{"p":720,"u":45,"d":-70},{"p":725,"u":25,"d":-40},{"p":730,"u":35,"d":-58},{"p":735,"u":22,"d":-42},{"p":740,"u":42,"d":-62},{"p":745,"u":55,"d":-48},{"p":750,"u":30,"d":-35},{"p":755,"u":48,"d":-55},{"p":760,"u":28,"d":-62},{"p":765,"u":60,"d":-40},{"p":770,"u":35,"d":-30},{"p":775,"u":66,"d":-52},{"p":780,"u":40,"d":-28},{"p":785,"u":55,"d":-45},{"p":790,"u":30,"d":-58},{"p":795,"u":42,"d":-65},{"p":800,"u":22,"d":-50},{"p":805,"u":35,"d":-62},{"p":810,"u":60,"d":-55},{"p":815,"u":75,"d":-66},{"p":820,"u":48,"d":-45},{"p":825,"u":70,"d":-58},{"p":830,"u":88,"d":-62},{"p":835,"u":55,"d":-40},{"p":840,"u":80,"d":-30},{"p":845,"u":45,"d":-38},{"p":850,"u":58,"d":-48},{"p":855,"u":30,"d":-28},{"p":860,"u":42,"d":-52},{"p":865,"u":25,"d":-35},{"p":870,"u":50,"d":-45},{"p":875,"u":35,"d":-58},{"p":880,"u":28,"d":-60},{"p":885,"u":45,"d":-25},{"p":890,"u":38,"d":-40},{"p":895,"u":52,"d":-32},{"p":900,"u":30,"d":-48},{"p":905,"u":48,"d":-38},{"p":910,"u":25,"d":-30},{"p":915,"u":40,"d":-44},{"p":920,"u":55,"d":-28},{"p":925,"u":32,"d":-50},{"p":930,"u":45,"d":-35},{"p":935,"u":28,"d":-42},{"p":940,"u":50,"d":-30},{"p":945,"u":35,"d":-48},{"p":950,"u":42,"d":-50},{"p":955,"u":30,"d":-28},{"p":960,"u":52,"d":-40},{"p":965,"u":40,"d":-35},{"p":970,"u":55,"d":-45},{"p":975,"u":57,"d":-30},{"p":980,"u":35,"d":-42},{"p":985,"u":48,"d":-25},{"p":990,"u":28,"d":-50},{"p":995,"u":45,"d":-62},{"p":1000,"u":32,"d":-40},{"p":1005,"u":50,"d":-55},{"p":1010,"u":38,"d":-68},{"p":1015,"u":55,"d":-45},{"p":1020,"u":30,"d":-78},{"p":1025,"u":48,"d":-100},{"p":1030,"u":60,"d":-50},{"p":1035,"u":35,"d":-62},{"p":1040,"u":52,"d":-40},{"p":1045,"u":28,"d":-55},{"p":1050,"u":45,"d":-70},{"p":1055,"u":62,"d":-48},{"p":1060,"u":38,"d":-35},{"p":1065,"u":50,"d":-60},{"p":1070,"u":30,"d":-45},{"p":1075,"u":55,"d":-58},{"p":1080,"u":42,"d":-38},{"p":1085,"u":65,"d":-72},{"p":1090,"u":35,"d":-50},{"p":1095,"u":48,"d":-30},{"p":1100,"u":60,"d":-65},{"p":1105,"u":30,"d":-42},{"p":1110,"u":70,"d":-75},{"p":1115,"u":45,"d":-60},{"p":1120,"u":55,"d":-90},{"p":1125,"u":38,"d":-48},{"p":1130,"u":62,"d":-62},{"p":1135,"u":30,"d":-35},{"p":1140,"u":58,"d":-55},{"p":1145,"u":42,"d":-40},{"p":1150,"u":72,"d":-70},{"p":1155,"u":35,"d":-48},{"p":1160,"u":60,"d":-58},{"p":1165,"u":45,"d":-38},{"p":1170,"u":65,"d":-52},{"p":1175,"u":40,"d":-45},{"p":1180,"u":75,"d":-60},{"p":1185,"u":50,"d":-35},{"p":1190,"u":94,"d":-62},{"p":1195,"u":60,"d":-72},{"p":1200,"u":35,"d":-83},{"p":1205,"u":48,"d":-50},{"p":1210,"u":30,"d":-70},{"p":1215,"u":55,"d":-58},{"p":1220,"u":42,"d":-75},{"p":1225,"u":62,"d":-45},{"p":1230,"u":35,"d":-68},{"p":1235,"u":70,"d":-50},{"p":1240,"u":48,"d":-78},{"p":1245,"u":60,"d":-55},{"p":1250,"u":85,"d":-88},{"p":1255,"u":104,"d":-104},{"p":1260,"u":45,"d":-60},{"p":1265,"u":55,"d":-72},{"p":1270,"u":35,"d":-50},{"p":1275,"u":62,"d":-65},{"p":1280,"u":40,"d":-42},{"p":1285,"u":58,"d":-58},{"p":1290,"u":30,"d":-70},{"p":1295,"u":72,"d":-48},{"p":1300,"u":45,"d":-62},{"p":1305,"u":85,"d":-40},{"p":1310,"u":110,"d":-55},{"p":1315,"u":62,"d":-45},{"p":1320,"u":40,"d":-60},{"p":1325,"u":30,"d":-38},{"p":1330,"u":48,"d":-52},{"p":1335,"u":25,"d":-40},{"p":1340,"u":38,"d":-58},{"p":1345,"u":55,"d":-69},{"p":1350,"u":30,"d":-35},{"p":1355,"u":45,"d":-48},{"p":1360,"u":60,"d":-40},{"p":1365,"u":35,"d":-55},{"p":1370,"u":58,"d":-64},{"p":1375,"u":42,"d":-30},{"p":1380,"u":30,"d":-45},{"p":1385,"u":62,"d":-28},{"p":1390,"u":40,"d":-50},{"p":1395,"u":25,"d":-38},{"p":1400,"u":50,"d":-58},{"p":1405,"u":35,"d":-30},{"p":1410,"u":45,"d":-42},{"p":1415,"u":25,"d":-25},{"p":1420,"u":55,"d":-48},{"p":1425,"u":72,"d":-70},{"p":1430,"u":40,"d":-30},{"p":1435,"u":28,"d":-22},{"p":1440,"u":50,"d":-35},{"p":1445,"u":32,"d":-40},{"p":1450,"u":45,"d":-28},{"p":1455,"u":60,"d":-45},{"p":1460,"u":28,"d":-30},{"p":1465,"u":48,"d":-38},{"p":1470,"u":30,"d":-52},{"p":1475,"u":65,"d":-25},{"p":1480,"u":40,"d":-35},{"p":1485,"u":25,"d":-20},{"p":1490,"u":55,"d":-30},{"p":1495,"u":35,"d":-42},{"p":1500,"u":60,"d":-28},{"p":1505,"u":30,"d":-48},{"p":1510,"u":48,"d":-35},{"p":1515,"u":25,"d":-55},{"p":1520,"u":62,"d":-30},{"p":1525,"u":35,"d":-45},{"p":1530,"u":55,"d":-52},{"p":1535,"u":42,"d":-35},{"p":1540,"u":58,"d":-62},{"p":1545,"u":30,"d":-40},{"p":1550,"u":48,"d":-55},{"p":1555,"u":65,"d":-38},{"p":1560,"u":38,"d":-58},{"p":1565,"u":52,"d":-45},{"p":1570,"u":30,"d":-60},{"p":1575,"u":60,"d":-40},{"p":1580,"u":40,"d":-55},{"p":1585,"u":55,"d":-62},{"p":1590,"u":35,"d":-50},{"p":1595,"u":71,"d":-68},{"p":1600,"u":65,"d":-45},{"p":1605,"u":42,"d":-58},{"p":1610,"u":52,"d":-35},{"p":1615,"u":30,"d":-50},{"p":1620,"u":48,"d":-62},{"p":1625,"u":35,"d":-42},{"p":1630,"u":58,"d":-55},{"p":1635,"u":42,"d":-70},{"p":1640,"u":62,"d":-48},{"p":1645,"u":35,"d":-60},{"p":1650,"u":50,"d":-84},{"p":1655,"u":60,"d":-52},{"p":1660,"u":38,"d":-40},{"p":1665,"u":55,"d":-62},{"p":1670,"u":30,"d":-48},{"p":1675,"u":48,"d":-58},{"p":1680,"u":62,"d":-35},{"p":1685,"u":40,"d":-55},{"p":1690,"u":55,"d":-42},{"p":1695,"u":35,"d":-60},{"p":1700,"u":60,"d":-48},{"p":1705,"u":42,"d":-72},{"p":1710,"u":65,"d":-50},{"p":1715,"u":48,"d":-65},{"p":1720,"u":67,"d":-58},{"p":1725,"u":40,"d":-75},{"p":1730,"u":55,"d":-82},{"p":1735,"u":35,"d":-50},{"p":1740,"u":50,"d":-62},{"p":1745,"u":30,"d":-45},{"p":1750,"u":48,"d":-55},{"p":1755,"u":35,"d":-42},{"p":1760,"u":45,"d":-60},{"p":1765,"u":25,"d":-48},{"p":1770,"u":50,"d":-38},{"p":1775,"u":38,"d":-55},{"p":1780,"u":54,"d":-40},{"p":1785,"u":35,"d":-58},{"p":1790,"u":48,"d":-32},{"p":1795,"u":30,"d":-50},{"p":1800,"u":45,"d":-42},{"p":1805,"u":28,"d":-60},{"p":1810,"u":55,"d":-35},{"p":1815,"u":38,"d":-48},{"p":1820,"u":50,"d":-55},{"p":1825,"u":30,"d":-62},{"p":1830,"u":60,"d":-81},{"p":1835,"u":40,"d":-38},{"p":1840,"u":52,"d":-50},{"p":1845,"u":28,"d":-60},{"p":1850,"u":45,"d":-42},{"p":1855,"u":62,"d":-55},{"p":1860,"u":35,"d":-30},{"p":1865,"u":50,"d":-48},{"p":1870,"u":30,"d":-40},{"p":1875,"u":58,"d":-60},{"p":1880,"u":42,"d":-35},{"p":1885,"u":62,"d":-52},{"p":1890,"u":35,"d":-42},{"p":1895,"u":55,"d":-30},{"p":1900,"u":28,"d":-60},{"p":1905,"u":48,"d":-38},{"p":1910,"u":32,"d":-52},{"p":1915,"u":60,"d":-28},{"p":1920,"u":40,"d":-45},{"p":1925,"u":59,"d":-35},{"p":1930,"u":28,"d":-55},{"p":1935,"u":52,"d":-25},{"p":1940,"u":35,"d":-40},{"p":1945,"u":58,"d":-30},{"p":1950,"u":42,"d":-48}]
},
"layer":[
{"data":{"name":"bands"},"mark":{"type":"arc","radius":975,"radius2":926,"stroke":"#000000","strokeWidth":1},"encoding":{"theta":{"field":"s","type":"quantitative","stack":null,"scale":{"domain":[0,1955],"range":[0,6.28319]}},"theta2":{"field":"e"},"color":{"field":"b","type":"nominal","legend":null,"scale":{"domain":["k","d","g","l"],"range":["#000000","#666666","#bbbbbb","#f0f0f0"]}}}},
{"data":{"name":"up"},"mark":{"type":"arc","radius":909,"radius2":889,"color":"#a8a8a8"},"encoding":{"theta":{"field":"s","type":"quantitative","stack":null,"scale":{"domain":[0,1955],"range":[0,6.28319]}},"theta2":{"field":"e"}}},
{"data":{"name":"down"},"mark":{"type":"arc","radius":889,"radius2":870,"color":"#a8a8a8"},"encoding":{"theta":{"field":"s","type":"quantitative","stack":null,"scale":{"domain":[0,1955],"range":[0,6.28319]}},"theta2":{"field":"e"}}},
{"data":{"name":"redUp"},"mark":{"type":"arc","radius":909,"radius2":889,"color":"#fb6a4a"},"encoding":{"theta":{"field":"s","type":"quantitative","stack":null,"scale":{"domain":[0,1955],"range":[0,6.28319]}},"theta2":{"field":"e"}}},
{"data":{"name":"redDown"},"mark":{"type":"arc","radius":889,"radius2":870,"color":"#fb6a4a"},"encoding":{"theta":{"field":"s","type":"quantitative","stack":null,"scale":{"domain":[0,1955],"range":[0,6.28319]}},"theta2":{"field":"e"}}},
{"data":{"name":"ring"},"mark":{"type":"arc","radius":853,"radius2":815},"encoding":{"theta":{"field":"s","type":"quantitative","stack":null,"scale":{"domain":[0,1955],"range":[0,6.28319]}},"theta2":{"field":"e"},"color":{"field":"c","type":"nominal","legend":null,"scale":{"domain":["a","b","c"],"range":["#0a3f80","#0868ac","#2b8cbe"]}}}},
{"data":{"name":"ticks"},"mark":{"type":"arc","radius":981,"radius2":975,"stroke":"#000000","strokeWidth":1.5},"encoding":{"theta":{"field":"p","type":"quantitative","stack":null,"scale":{"domain":[0,1955],"range":[0,6.28319]}},"theta2":{"field":"p"}}},
{"data":{"name":"major"},"mark":{"type":"arc","radius":990,"radius2":975,"stroke":"#000000","strokeWidth":1.5},"encoding":{"theta":{"field":"p","type":"quantitative","stack":null,"scale":{"domain":[0,1955],"range":[0,6.28319]}},"theta2":{"field":"p"}}},
{"data":{"name":"major"},"transform":[{"filter":"datum.p<=900"}],"mark":{"type":"text","radius":998,"align":"left","baseline":"middle","font":"Roboto","fontSize":42,"color":"#000000"},"encoding":{"theta":{"field":"p","type":"quantitative","stack":null,"scale":{"domain":[0,1955],"range":[0,6.28319]}},"text":{"field":"t"},"angle":{"field":"p","type":"quantitative","legend":null,"scale":{"domain":[0,1955],"range":[-90,270]}}}},
{"data":{"name":"major"},"transform":[{"filter":"datum.p>900"}],"mark":{"type":"text","radius":998,"align":"right","baseline":"middle","font":"Roboto","fontSize":42,"color":"#000000"},"encoding":{"theta":{"field":"p","type":"quantitative","stack":null,"scale":{"domain":[0,1955],"range":[0,6.28319]}},"text":{"field":"t"},"angle":{"field":"p","type":"quantitative","legend":null,"scale":{"domain":[0,1955],"range":[90,450]}}}},
{"data":{"name":"skew"},"transform":[{"filter":"datum.v>0"}],"mark":{"type":"arc","stroke":"#9ecae1","strokeWidth":9},"encoding":{"theta":{"field":"p","type":"quantitative","stack":null,"scale":{"domain":[0,1955],"range":[0,6.28319]}},"theta2":{"field":"p"},"radius":{"field":"v","type":"quantitative","scale":{"domain":[-90,90],"range":[600,714],"zero":false}},"radius2":{"datum":0}}},
{"data":{"name":"skew"},"transform":[{"filter":"datum.v<0"}],"mark":{"type":"arc","stroke":"#fc9272","strokeWidth":9},"encoding":{"theta":{"field":"p","type":"quantitative","stack":null,"scale":{"domain":[0,1955],"range":[0,6.28319]}},"theta2":{"field":"p"},"radius":{"field":"v","type":"quantitative","scale":{"domain":[-90,90],"range":[600,714],"zero":false}},"radius2":{"datum":0}}},
{"data":{"name":"skew"},"transform":[{"filter":"datum.v>0"}],"mark":{"type":"arc","stroke":"#9ecae1","strokeWidth":4.5},"encoding":{"theta":{"field":"p","type":"quantitative","stack":null,"scale":{"domain":[0,1955],"range":[0,6.28319]}},"theta2":{"field":"p"},"radius":{"field":"v","type":"quantitative","scale":{"domain":[-90,90],"range":[582,732],"zero":false}},"radius2":{"datum":0}}},
{"data":{"name":"skew"},"transform":[{"filter":"datum.v<0"}],"mark":{"type":"arc","stroke":"#fc9272","strokeWidth":4.5},"encoding":{"theta":{"field":"p","type":"quantitative","stack":null,"scale":{"domain":[0,1955],"range":[0,6.28319]}},"theta2":{"field":"p"},"radius":{"field":"v","type":"quantitative","scale":{"domain":[-90,90],"range":[582,732],"zero":false}},"radius2":{"datum":0}}},
{"data":{"name":"skew"},"transform":[{"filter":"datum.v>0"}],"mark":{"type":"arc","stroke":"#6baed6","strokeWidth":1.8},"encoding":{"theta":{"field":"p","type":"quantitative","stack":null,"scale":{"domain":[0,1955],"range":[0,6.28319]}},"theta2":{"field":"p"},"radius":{"field":"v","type":"quantitative","scale":{"domain":[-90,90],"range":[567,747],"zero":false}},"radius2":{"datum":0}}},
{"data":{"name":"skew"},"transform":[{"filter":"datum.v<0"}],"mark":{"type":"arc","stroke":"#fb6a4a","strokeWidth":1.8},"encoding":{"theta":{"field":"p","type":"quantitative","stack":null,"scale":{"domain":[0,1955],"range":[0,6.28319]}},"theta2":{"field":"p"},"radius":{"field":"v","type":"quantitative","scale":{"domain":[-90,90],"range":[567,747],"zero":false}},"radius2":{"datum":0}}},
{"data":{"name":"gc"},"mark":{"type":"arc","stroke":"#9ecae1","strokeWidth":3.5},"encoding":{"theta":{"field":"p","type":"quantitative","stack":null,"scale":{"domain":[0,1955],"range":[0,6.28319]}},"theta2":{"field":"p"},"radius":{"field":"u","type":"quantitative","scale":{"domain":[-90,90],"range":[428,464],"zero":false}},"radius2":{"datum":0}}},
{"data":{"name":"gc"},"mark":{"type":"arc","stroke":"#a1d99b","strokeWidth":3.5},"encoding":{"theta":{"field":"p","type":"quantitative","stack":null,"scale":{"domain":[0,1955],"range":[0,6.28319]}},"theta2":{"field":"p"},"radius":{"field":"d","type":"quantitative","scale":{"domain":[-90,90],"range":[428,464],"zero":false}},"radius2":{"datum":0}}},
{"data":{"name":"gc"},"mark":{"type":"arc","stroke":"#6baed6","strokeWidth":1.8},"encoding":{"theta":{"field":"p","type":"quantitative","stack":null,"scale":{"domain":[0,1955],"range":[0,6.28319]}},"theta2":{"field":"p"},"radius":{"field":"u","type":"quantitative","scale":{"domain":[-90,90],"range":[356,536],"zero":false}},"radius2":{"datum":0}}},
{"data":{"name":"gc"},"mark":{"type":"arc","stroke":"#74c476","strokeWidth":1.8},"encoding":{"theta":{"field":"p","type":"quantitative","stack":null,"scale":{"domain":[0,1955],"range":[0,6.28319]}},"theta2":{"field":"p"},"radius":{"field":"d","type":"quantitative","scale":{"domain":[-90,90],"range":[356,536],"zero":false}},"radius2":{"datum":0}}}
]}
